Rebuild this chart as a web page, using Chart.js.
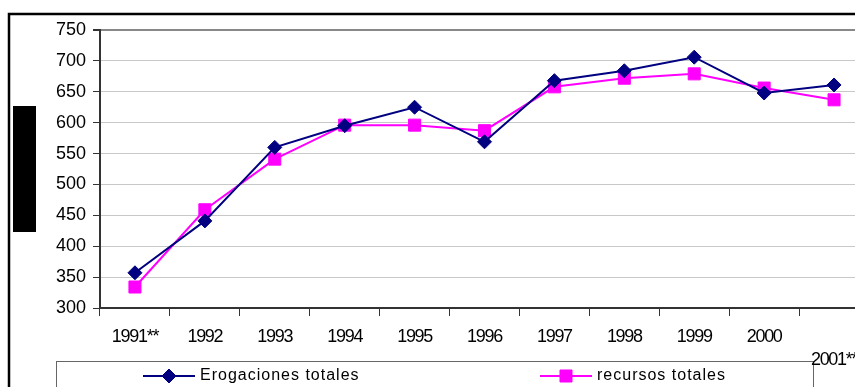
<!DOCTYPE html>
<html>
<head>
<meta charset="utf-8">
<script src="https://cdn.jsdelivr.net/npm/chart.js@4/dist/chart.umd.min.js"></script>
<style>
  html, body { margin: 0; padding: 0; background: #fff; overflow: hidden; }
  #wrap { width: 900px; height: 387px; }
</style>
</head>
<body>
<div id="wrap"><canvas id="chart" width="900" height="387"></canvas></div>
<script>
// Data
const years = ['1991**', '1992', '1993', '1994', '1995', '1996', '1997', '1998', '1999', '2000', ['', '2001**']];
const erogaciones = [357, 441, 560, 595, 625, 569, 668, 684, 706, 648, 661];
const recursos = [334, 459, 541, 596, 596, 587, 658, 672, 679, 656, 637];
const yTicks = [300, 350, 400, 450, 500, 550, 600, 650, 700, 750];
const seriesNames = ['Erogaciones totales', 'recursos totales'];

const NAVY = '#000080';
const MAGENTA = '#ff00ff';
const FONT = '"Liberation Sans", Arial, sans-serif';

// Frame, black block and legend box
const frame = {
  id: 'frame',
  beforeDraw(chart) {
    const ctx = chart.ctx;
    ctx.save();
    ctx.fillStyle = '#fff';
    ctx.fillRect(0, 0, chart.width, chart.height);
    ctx.strokeStyle = '#000';
    ctx.lineWidth = 2.5;
    ctx.beginPath();
    ctx.moveTo(9, chart.height);
    ctx.lineTo(9, 14);
    ctx.lineTo(chart.width, 14);
    ctx.stroke();
    ctx.fillStyle = '#000';
    ctx.fillRect(13, 106, 23, 126);
    ctx.strokeStyle = '#666';
    ctx.lineWidth = 1;
    ctx.strokeRect(56.5, 361.5, 757, 40);
    ctx.restore();
  },
  afterDraw(chart) {
    const ctx = chart.ctx;
    const spots = [143, 540];
    ctx.save();
    chart.data.datasets.forEach((ds, i) => {
      const x = spots[i], y = 376;
      ctx.strokeStyle = ds.borderColor;
      ctx.fillStyle = ds.backgroundColor;
      ctx.lineWidth = 2;
      ctx.beginPath();
      ctx.moveTo(x, y);
      ctx.lineTo(x + 52, y);
      ctx.stroke();
      ctx.lineWidth = 1;
      Chart.helpers.drawPoint(ctx, {
        pointStyle: ds.pointStyle, radius: ds.pointRadius, borderWidth: 1
      }, x + 26, y);
      ctx.fillStyle = '#000';
      ctx.font = '16px ' + FONT;
      ctx.letterSpacing = '1px';
      ctx.textBaseline = 'middle';
      ctx.textAlign = 'left';
      ctx.fillText(seriesNames[i], x + 57, y);
      ctx.letterSpacing = '0px';
    });
    ctx.restore();
  }
};

const chart = new Chart(document.getElementById('chart'), {
  type: 'line',
  data: {
    labels: years,
    datasets: [
      {
        label: seriesNames[0], data: erogaciones,
        borderColor: NAVY, backgroundColor: NAVY, borderWidth: 2,
        pointStyle: 'rectRot', pointRadius: 7, pointBorderWidth: 1, pointHoverRadius: 7
      },
      {
        label: seriesNames[1], data: recursos,
        borderColor: MAGENTA, backgroundColor: MAGENTA, borderWidth: 2,
        pointStyle: 'rect', pointRadius: 8.5, pointBorderWidth: 1, pointHoverRadius: 8.5
      }
    ]
  },
  options: {
    responsive: false,
    animation: false,
    devicePixelRatio: 1,
    layout: { padding: { left: 0, top: 30, right: 31, bottom: 0 } },
    plugins: { legend: { display: false }, tooltip: { enabled: false } },
    scales: {
      x: {
        offset: true,
        grid: { offset: true, drawOnChartArea: false, tickLength: 8, tickColor: '#333', lineWidth: 1 },
        border: { color: '#333', width: 2 },
        ticks: {
          color: '#000', padding: 9, maxRotation: 0, autoSkip: false,
          font: { family: FONT, size: 18, lineHeight: 1.3 }
        },
        afterFit(scale) { scale.height = 79; }
      },
      y: {
        min: 300, max: 750,
        afterBuildTicks(scale) { scale.ticks = yTicks.map(v => ({ value: v })); },
        grid: {
          color: ctx => ctx.tick && ctx.tick.value === 750 ? '#888' : '#c8c8c8',
          lineWidth: ctx => ctx.tick && ctx.tick.value === 750 ? 2 : 1,
          tickLength: 7, tickColor: '#333'
        },
        border: { color: '#333', width: 2 },
        ticks: {
          color: '#000', padding: 7,
          font: { family: FONT, size: 18 }
        },
        afterFit(scale) { scale.width = 100; }
      }
    }
  },
  plugins: [frame]
});

// tighter category labels, like the original
const xs = chart.scales.x;
const drawXLabels = xs.drawLabels.bind(xs);
xs.drawLabels = function (area) {
  this.ctx.save();
  this.ctx.letterSpacing = '-1.3px';
  drawXLabels(area);
  this.ctx.restore();
};
chart.draw();
</script>
</body>
</html>
